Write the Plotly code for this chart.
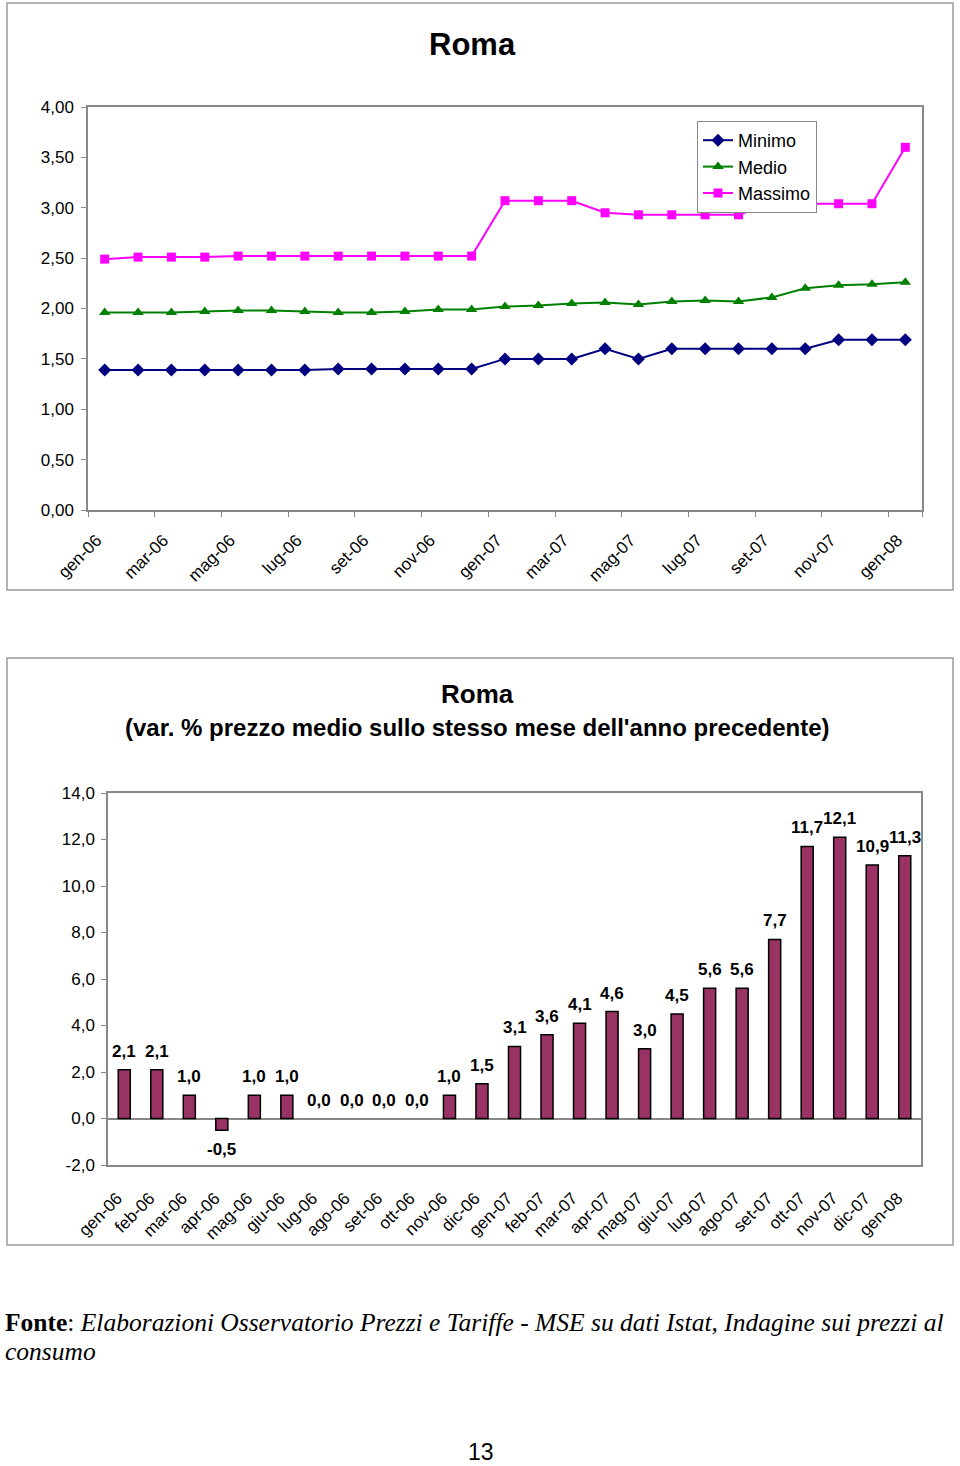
import plotly.graph_objects as go

# ---------------- data ----------------
months = ["gen-06", "feb-06", "mar-06", "apr-06", "mag-06", "giu-06", "lug-06", "ago-06",
          "set-06", "ott-06", "nov-06", "dic-06", "gen-07", "feb-07", "mar-07", "apr-07",
          "mag-07", "giu-07", "lug-07", "ago-07", "set-07", "ott-07", "nov-07", "dic-07", "gen-08"]

minimo = [1.39, 1.39, 1.39, 1.39, 1.39, 1.39, 1.39, 1.40, 1.40, 1.40, 1.40, 1.40, 1.50,
          1.50, 1.50, 1.60, 1.50, 1.60, 1.60, 1.60, 1.60, 1.60, 1.69, 1.69, 1.69]
medio = [1.96, 1.96, 1.96, 1.97, 1.98, 1.98, 1.97, 1.96, 1.96, 1.97, 1.99, 1.99, 2.02,
         2.03, 2.05, 2.06, 2.04, 2.07, 2.08, 2.07, 2.11, 2.20, 2.23, 2.24, 2.26]
massimo = [2.49, 2.51, 2.51, 2.51, 2.52, 2.52, 2.52, 2.52, 2.52, 2.52, 2.52, 2.52, 3.07,
           3.07, 3.07, 2.95, 2.93, 2.93, 2.93, 2.93, 3.04, 3.04, 3.04, 3.04, 3.60]

var_pct = [2.1, 2.1, 1.0, -0.5, 1.0, 1.0, 0.0, 0.0, 0.0, 0.0, 1.0, 1.5, 3.1,
           3.6, 4.1, 4.6, 3.0, 4.5, 5.6, 5.6, 7.7, 11.7, 12.1, 10.9, 11.3]

top_ticks = months[::2]
bar_ticks = [-2, 0, 2, 4, 6, 8, 10, 12, 14]
bar_ticktext = ["-2,0", "0,0", "2,0", "4,0", "6,0", "8,0", "10,0", "12,0", "14,0"]

W, H = 960, 1466
def px_x(v):
    return v / W
def px_y(v):
    return 1 - v / H

FONT = "Liberation Sans, Arial, sans-serif"
SERIF = "Liberation Serif, Times New Roman, serif"
GRAY = "#888888"

fig = go.Figure()

fig.add_trace(go.Scatter(x=months, y=minimo, name="Minimo", mode="lines+markers",
                         line=dict(color="#000080", width=2),
                         marker=dict(symbol="diamond", size=10, color="#000080"),
                         xaxis="x", yaxis="y"))
fig.add_trace(go.Scatter(x=months, y=medio, name="Medio", mode="lines+markers",
                         line=dict(color="#008000", width=2),
                         marker=dict(symbol="triangle-up", size=10, color="#008000"),
                         xaxis="x", yaxis="y"))
fig.add_trace(go.Scatter(x=months, y=massimo, name="Massimo", mode="lines+markers",
                         line=dict(color="#FF00FF", width=2),
                         marker=dict(symbol="square", size=9, color="#FF00FF"),
                         xaxis="x", yaxis="y"))

bar_line_w = [0 if v == 0 else 1.5 for v in var_pct]
fig.add_trace(go.Bar(x=months, y=var_pct, showlegend=False,
                     marker=dict(color="#993366", line=dict(color="black", width=bar_line_w)),
                     width=0.37, cliponaxis=False,
                     xaxis="x2", yaxis="y2"))

# zero-line axis carrying the category tick marks of the bar chart
zero_pos = px_y(1165) + (px_y(793) - px_y(1165)) * (0 - (-2)) / (14 - (-2))

fig.update_layout(
    width=W, height=H,
    margin=dict(l=0, r=0, t=0, b=0, autoexpand=False),
    paper_bgcolor="white", plot_bgcolor="white",
    separators=",.",
    font=dict(family=FONT, size=17, color="black"),
    showlegend=True,
    legend=dict(x=px_x(697), y=px_y(121), xanchor="left", yanchor="top",
                bordercolor=GRAY, borderwidth=1, bgcolor="white",
                font=dict(family=FONT, size=18, color="black"), tracegroupgap=0,
                itemwidth=30),
    xaxis=dict(domain=[px_x(88), px_x(922)], anchor="y", type="category", automargin=False,
               range=[-0.5, 24.5], tickmode="array", tickvals=top_ticks, ticktext=top_ticks,
               tickson="boundaries",
               tickangle=-45, tickfont=dict(size=17, color="black"), showline=True,
               linecolor=GRAY, linewidth=1.5, mirror=True, showgrid=False,
               ticks="outside", ticklen=5, tickcolor=GRAY, tickwidth=1,
               ticklabelstandoff=12, ticklabelshift=-8),
    yaxis=dict(domain=[px_y(510), px_y(107)], anchor="x", range=[0, 4], dtick=0.5,
               automargin=False,
               tickformat=".2f", showline=True, linecolor=GRAY, linewidth=1.5, mirror=True,
               showgrid=False, ticks="outside", ticklen=5, tickcolor=GRAY,
               ticklabelstandoff=4,
               tickfont=dict(size=17, color="black"), zeroline=False),
    xaxis2=dict(domain=[px_x(108), px_x(921)], anchor="y2", type="category", automargin=False,
                range=[-0.5, 24.5], tickangle=-45, tickfont=dict(size=17, color="black"),
                showline=True, linecolor=GRAY, linewidth=1.5, mirror=True,
                showgrid=False, ticks="", ticklabelstandoff=15, ticklabelshift=-7),
    xaxis3=dict(domain=[px_x(108), px_x(921)], anchor="free", position=zero_pos,
                overlaying="x2", type="linear", range=[-0.5, 24.5], tick0=-0.5, dtick=1,
                ticks="outside", ticklen=5, tickcolor=GRAY, showticklabels=False,
                showline=False, showgrid=False, zeroline=False, automargin=False),
    yaxis2=dict(domain=[px_y(1165), px_y(793)], anchor="x2", range=[-2, 14],
                tickmode="array", tickvals=bar_ticks, ticktext=bar_ticktext,
                automargin=False,
                showline=True, linecolor=GRAY, linewidth=1.5, mirror=True,
                showgrid=False, ticks="outside", ticklen=5, tickcolor=GRAY,
                ticklabelstandoff=3,
                tickfont=dict(size=17, color="black"), zeroline=True, zerolinecolor=GRAY,
                zerolinewidth=1.5),
)

shapes = [
    dict(type="rect", xref="paper", yref="paper", x0=px_x(7), x1=px_x(953),
         y0=px_y(590), y1=px_y(3), line=dict(color="#999999", width=1.5)),
    dict(type="rect", xref="paper", yref="paper", x0=px_x(7), x1=px_x(953),
         y0=px_y(1245), y1=px_y(658), line=dict(color="#999999", width=1.5)),
]
fig.update_layout(shapes=shapes)

annotations = [
    dict(text="<b>Roma</b>", x=px_x(472), y=px_y(44), xref="paper", yref="paper",
         xanchor="center", yanchor="middle",
         showarrow=False, font=dict(family=FONT, size=31, color="black")),
    dict(text="<b>Roma</b>", x=px_x(477), y=px_y(694), xref="paper", yref="paper",
         xanchor="center", yanchor="middle",
         showarrow=False, font=dict(family=FONT, size=26, color="black")),
    dict(text="<b>(var. % prezzo medio sullo stesso mese dell'anno precedente)</b>",
         x=px_x(477), y=px_y(727), xref="paper", yref="paper",
         xanchor="center", yanchor="middle",
         showarrow=False, font=dict(family=FONT, size=24, color="black")),
    dict(text="<b>Fonte</b>: <i>Elaborazioni Osservatorio Prezzi e Tariffe - MSE su dati Istat, "
              "Indagine sui prezzi al</i>",
         x=px_x(3), y=px_y(1322), xref="paper", yref="paper", xanchor="left", yanchor="middle",
         showarrow=False, font=dict(family=SERIF, size=25.5, color="black")),
    dict(text="<i>consumo</i>",
         x=px_x(3), y=px_y(1351), xref="paper", yref="paper", xanchor="left", yanchor="middle",
         showarrow=False, font=dict(family=SERIF, size=25.5, color="black")),
    dict(text="13", x=px_x(481), y=px_y(1452), xref="paper", yref="paper",
         xanchor="center", yanchor="middle",
         showarrow=False, font=dict(family="Liberation Sans Narrow, " + FONT, size=23,
                                    color="black")),
]

# value labels of the bars, placed through the bar chart's own axes
for m, v in zip(months, var_pct):
    annotations.append(dict(
        text="<b>" + f"{v:.1f}".replace(".", ",") + "</b>",
        x=m, y=v, xref="x2", yref="y2", showarrow=False,
        xanchor="center", yanchor="top" if v < 0 else "bottom",
        yshift=-8 if v < 0 else 7,
        font=dict(family=FONT, size=17, color="black")))

fig.update_layout(annotations=annotations)

fig.write_html("out.html", config={"displayModeBar": False},
               post_script="document.body.style.margin='0';")
